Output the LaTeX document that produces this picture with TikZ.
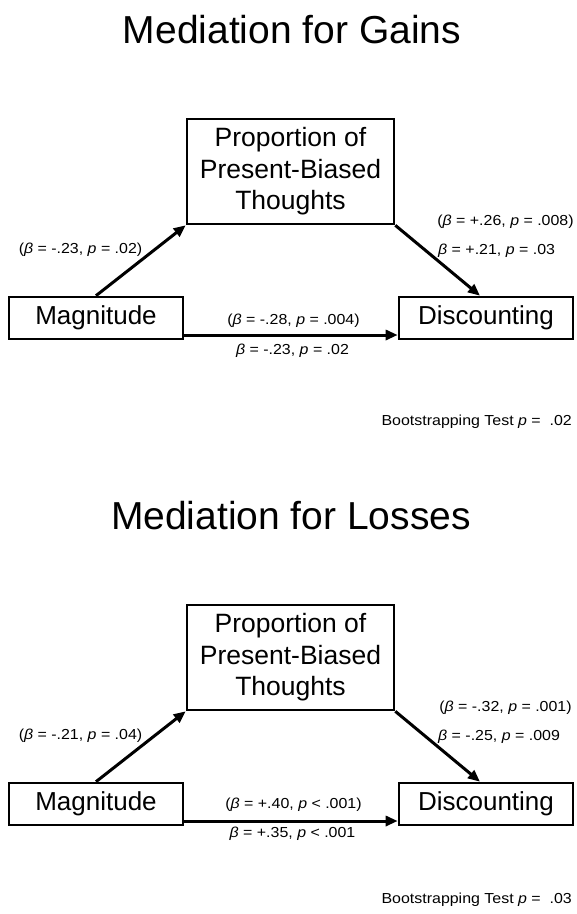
\documentclass[tikz,border=0pt]{standalone}
\usepackage{fontspec}
\setmainfont{Liberation Sans}
\newfontfamily\labelfont[FakeStretch=1.1]{Liberation Sans}
\usetikzlibrary{arrows.meta}
\begin{document}
\begin{tikzpicture}[x=1pt,y=-1pt,
  ttl/.style={font=\fontsize{39}{44}\selectfont, inner sep=0pt, anchor=base},
  box/.style={draw=black, line width=2.6pt, inner sep=0pt, minimum width=174pt, minimum height=42pt,
    font=\fontsize{26}{31}\selectfont},
  propbox/.style={draw=black, line width=2.6pt, inner sep=0pt, minimum width=207pt, minimum height=105pt,
    align=center, font=\fontsize{26.5}{31.5}\selectfont},
  arr/.style={line width=3pt, -{Triangle[length=12pt,width=10pt]}},
  lbl/.style={font=\labelfont\fontsize{14.5}{17}\selectfont, inner sep=0pt, anchor=base},
]
\useasboundingbox[fill=white] (0,0) rectangle (577,914);

% ---------- Gains ----------
\node[ttl] (t1) at (292,43) {Mediation for Gains};
\node[propbox] (p1) at (290.5,171.5) {Proportion of\\Present-Biased\\Thoughts};
\node[box] (m1) at (96,318) {Magnitude};
\node[box] (d1) at (486,318) {Discounting};
\draw[arr] (m1.north) -- (p1.south west);
\draw[arr] (p1.south east) -- ([xshift=-6pt]d1.north);
\draw[arr] ([yshift=-17pt]m1.east) -- ([yshift=-17pt]d1.west);
\node[lbl] (a1) at (80.5,253) {(\textit{β} = -.23, \textit{p} = .02)};
\node[lbl] (b1) at (505.5,225) {(\textit{β} = +.26, \textit{p} = .008)};
\node[lbl, anchor=base west] (b1x) at (438,254) {\textit{β} = +.21, \textit{p} = .03};
\node[lbl] (c1) at (293.5,324) {(\textit{β} = -.28, \textit{p} = .004)};
\node[lbl] (c1x) at (292.5,354) {\textit{β} = -.23, \textit{p} = .02};
\node[lbl, anchor=base east] (bs1) at (572,425) {Bootstrapping Test \textit{p} =\ \ .02};

% ---------- Losses ----------
\node[ttl] (t2) at (291,529) {Mediation for Losses};
\node[propbox] (p2) at (290.5,657.5) {Proportion of\\Present-Biased\\Thoughts};
\node[box] (m2) at (96,804) {Magnitude};
\node[box] (d2) at (486,804) {Discounting};
\draw[arr] (m2.north) -- (p2.south west);
\draw[arr] (p2.south east) -- ([xshift=-6pt]d2.north);
\draw[arr] ([yshift=-17pt]m2.east) -- ([yshift=-17pt]d2.west);
\node[lbl] (a2) at (80.5,739) {(\textit{β} = -.21, \textit{p} = .04)};
\node[lbl] (b2) at (505.5,711) {(\textit{β} = -.32, \textit{p} = .001)};
\node[lbl, anchor=base west] (b2x) at (438,740) {\textit{β} = -.25, \textit{p} = .009};
\node[lbl] (c2) at (293.5,808) {(\textit{β} = +.40, \textit{p} < .001)};
\node[lbl] (c2x) at (292.5,837) {\textit{β} = +.35, \textit{p} < .001};
\node[lbl, anchor=base east] (bs2) at (572,903) {Bootstrapping Test \textit{p} =\ \ .03};
\end{tikzpicture}
\end{document}
